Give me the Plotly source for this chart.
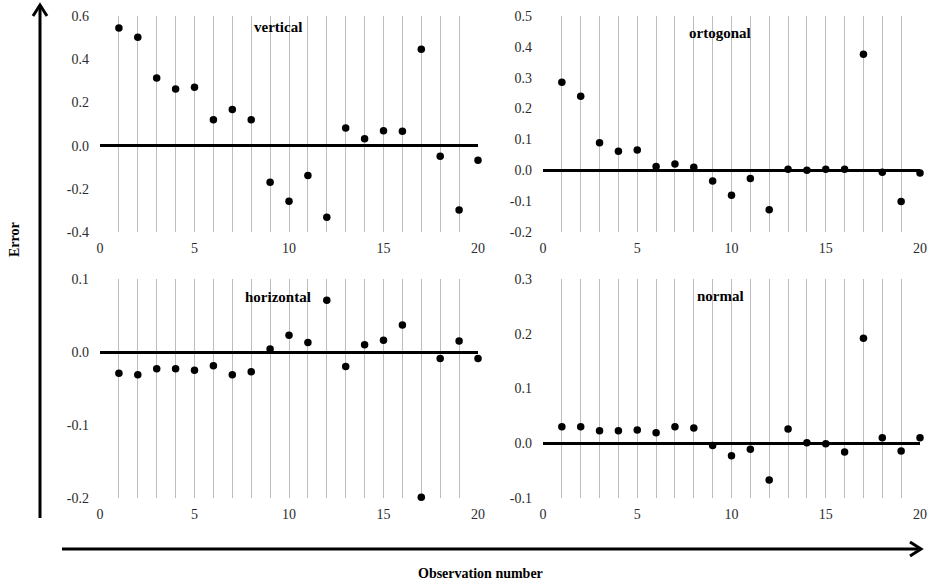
import plotly.graph_objects as go
from plotly.subplots import make_subplots

obs = list(range(1, 21))
vertical = [0.545, 0.502, 0.313, 0.262, 0.270, 0.120, 0.167, 0.120, -0.170, -0.258,
            -0.139, -0.332, 0.082, 0.032, 0.069, 0.066, 0.446, -0.049, -0.298, -0.068]
ortogonal = [0.285, 0.240, 0.089, 0.062, 0.066, 0.012, 0.020, 0.010, -0.035, -0.081,
             -0.027, -0.128, 0.003, 0.000, 0.003, 0.003, 0.376, -0.006, -0.101, -0.009]
horizontal = [-0.029, -0.031, -0.023, -0.023, -0.025, -0.019, -0.031, -0.027, 0.004, 0.023,
              0.013, 0.071, -0.020, 0.010, 0.016, 0.037, -0.199, -0.009, 0.015, -0.009]
normal = [0.030, 0.030, 0.023, 0.023, 0.024, 0.019, 0.030, 0.028, -0.004, -0.023,
          -0.011, -0.067, 0.026, 0.001, -0.001, -0.016, 0.192, 0.010, -0.014, 0.010]

yt_vertical = [-0.4, -0.2, 0.0, 0.2, 0.4, 0.6]
yt_ortogonal = [-0.2, -0.1, 0.0, 0.1, 0.2, 0.3, 0.4, 0.5]
yt_horizontal = [-0.2, -0.1, 0.0, 0.1]
yt_normal = [-0.1, 0.0, 0.1, 0.2, 0.3]
x_ticks = [0, 5, 10, 15, 20]

panels = [
    ("vertical", vertical, yt_vertical, 1, 1),
    ("ortogonal", ortogonal, yt_ortogonal, 1, 2),
    ("horizontal", horizontal, yt_horizontal, 2, 1),
    ("normal", normal, yt_normal, 2, 2),
]

W, H = 932, 584
fig = make_subplots(rows=2, cols=2)

serif = "Liberation Serif, Times New Roman, serif"
xdom = {1: [100 / W, 478 / W], 2: [543 / W, 920 / W]}
ydom = {1: [1 - 232 / H, 1 - 16 / H], 2: [1 - 498 / H, 1 - 279 / H]}
title_pos = {1: {1: (278, 27), 2: (720, 33)}, 2: {1: (278, 297), 2: (720, 296)}}
grid_col = "#bdbdbd"
lab_col = "#2b2b2b"

for name, vals, yt, r, c in panels:
    fig.add_trace(go.Scatter(x=obs, y=vals, mode="markers", cliponaxis=False,
                             marker=dict(color="black", size=7.5),
                             showlegend=False), row=r, col=c)
    fig.update_xaxes(range=[0, 20], tickvals=x_ticks, showgrid=True,
                     gridcolor=grid_col, gridwidth=1,
                     minor=dict(dtick=1, tick0=0, showgrid=True, gridcolor=grid_col, gridwidth=1),
                     zeroline=False, showline=False, ticks="", ticklabelstandoff=6,
                     tickfont=dict(family=serif, size=14, color=lab_col),
                     domain=xdom[c], row=r, col=c)
    fig.update_yaxes(range=[yt[0], yt[-1]], tickvals=yt,
                     ticktext=[f"{v:.1f}" for v in yt], showgrid=False,
                     zeroline=True, zerolinecolor="black", zerolinewidth=2.5,
                     showline=False, ticks="", ticklabelstandoff=10,
                     tickfont=dict(family=serif, size=14, color=lab_col),
                     domain=ydom[r], row=r, col=c)
    px, py = title_pos[r][c]
    fig.add_annotation(x=px / W, y=1 - py / H, xref="paper", yref="paper",
                       xanchor="center", yanchor="middle",
                       text=f"<b>{name}</b>", showarrow=False,
                       font=dict(family=serif, size=15, color="black"))

# axis arrows
def P(x, y):
    return x / W, 1 - y / H

x0, y0 = P(40, 518)
x1, y1 = P(40, 8)
fig.add_shape(type="line", xref="paper", yref="paper", x0=x0, y0=y0, x1=x1, y1=y1,
              line=dict(color="black", width=3))
a, b = P(33, 16); c_, d = P(40, 5); e, f = P(47, 16)
fig.add_shape(type="path", xref="paper", yref="paper",
              path=f"M {a},{b} L {c_},{d} L {e},{f}", line=dict(color="black", width=3))

x0, y0 = P(62, 549)
x1, y1 = P(918, 549)
fig.add_shape(type="line", xref="paper", yref="paper", x0=x0, y0=y0, x1=x1, y1=y1,
              line=dict(color="black", width=3))
a, b = P(910, 542); c_, d = P(921, 549); e, f = P(910, 556)
fig.add_shape(type="path", xref="paper", yref="paper",
              path=f"M {a},{b} L {c_},{d} L {e},{f}", line=dict(color="black", width=3))

fig.add_annotation(x=480 / W, y=1 - 573 / H, xref="paper", yref="paper",
                   xanchor="center", yanchor="middle",
                   text="<b>Observation number</b>", showarrow=False,
                   font=dict(family=serif, size=14, color="black"))
fig.add_annotation(x=14 / W, y=1 - 240 / H, xref="paper", yref="paper",
                   xanchor="center", yanchor="middle",
                   text="<b>Error</b>", showarrow=False, textangle=-90,
                   font=dict(family=serif, size=14, color="black"))

fig.update_layout(template="none", width=W, height=H, margin=dict(l=0, r=0, t=0, b=0),
                  font=dict(family=serif, color=lab_col),
                  plot_bgcolor="white", paper_bgcolor="white")
fig.write_html("out.html")
